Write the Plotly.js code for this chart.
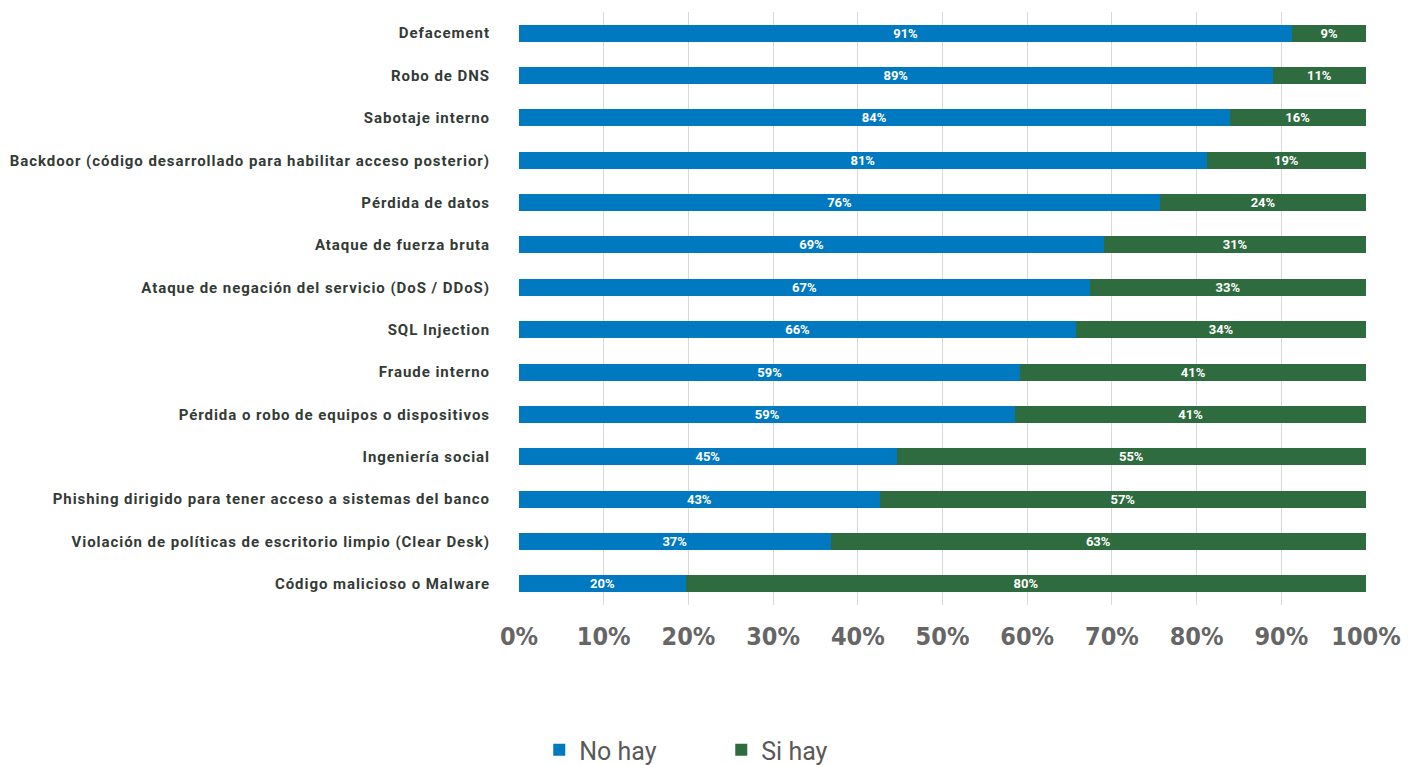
<!DOCTYPE html>
<html>
<head>
<meta charset="utf-8">
<script src="https://cdn.plot.ly/plotly-3.0.1.min.js"></script>
<style>
html,body{margin:0;padding:0;background:#fff;}
#chart{width:1408px;height:765px;}
#chart .ytick text{letter-spacing:0.95px;}
</style>
</head>
<body>
<div id="chart"></div>
<script>
const categories = [
  "Defacement",
  "Robo de DNS",
  "Sabotaje interno",
  "Backdoor (código desarrollado para habilitar acceso posterior)",
  "Pérdida de datos",
  "Ataque de fuerza bruta",
  "Ataque de negación del servicio (DoS / DDoS)",
  "SQL Injection",
  "Fraude interno",
  "Pérdida o robo de equipos o dispositivos",
  "Ingeniería social",
  "Phishing dirigido para tener acceso a sistemas del banco",
  "Violación de políticas de escritorio limpio (Clear Desk)",
  "Código malicioso o Malware"
];
const noHay = [91.3, 89.0, 83.9, 81.2, 75.7, 69.1, 67.4, 65.8, 59.2, 58.6, 44.6, 42.6, 36.8, 19.7];
const siHay = [8.7, 11.0, 16.1, 18.8, 24.3, 30.9, 32.6, 34.2, 40.8, 41.4, 55.4, 57.4, 63.2, 80.3];
const tickVals = [0, 10, 20, 30, 40, 50, 60, 70, 80, 90, 100];
const tickText = ["0%", "10%", "20%", "30%", "40%", "50%", "60%", "70%", "80%", "90%", "100%"];

const barFont = {family: "Roboto, sans-serif", size: 13, color: "#ffffff", weight: "bold"};
const traces = [
  {type: "bar", orientation: "h", name: "No hay", y: categories, x: noHay,
   marker: {color: "#0079C1"}, texttemplate: "%{x:.0f}%", textposition: "inside",
   insidetextanchor: "middle", textfont: barFont, constraintext: "none", width: 0.4, hoverinfo: "x+y"},
  {type: "bar", orientation: "h", name: "Si hay", y: categories, x: siHay,
   marker: {color: "#2E6B3E"}, texttemplate: "%{x:.0f}%", textposition: "inside",
   insidetextanchor: "middle", textfont: barFont, constraintext: "none", width: 0.4, hoverinfo: "x+y"}
];

const layout = {
  width: 1408, height: 765,
  margin: {l: 519, r: 42, t: 12, b: 160},
  barmode: "stack",
  paper_bgcolor: "#ffffff", plot_bgcolor: "#ffffff",
  xaxis: {range: [0, 100], tickvals: tickVals, ticktext: tickText, automargin: false,
    showgrid: true, gridcolor: "#d9d9d9", gridwidth: 1, zeroline: false,
    ticks: "", ticklabelstandoff: 14,
    tickfont: {family: "'DejaVu Sans Condensed', 'Liberation Sans Narrow', sans-serif", size: 25, color: "#666666", weight: "bold"},
    fixedrange: true},
  yaxis: {autorange: "reversed", ticks: "", showgrid: false, zeroline: false, automargin: false,
    ticklabelstandoff: 28,
    tickfont: {family: "Roboto, sans-serif", size: 15, color: "#333b36", weight: "bold"},
    fixedrange: true},
  legend: {orientation: "h", xref: "container", yref: "container",
    x: 0.383, xanchor: "left", y: 0.0196, yanchor: "middle",
    font: {family: "Roboto, sans-serif", size: 25, color: "#595959"},
    entrywidth: 137, traceorder: "normal"},
  showlegend: true
};

Plotly.newPlot("chart", traces, layout, {displayModeBar: false, staticPlot: true});
</script>
</body>
</html>
